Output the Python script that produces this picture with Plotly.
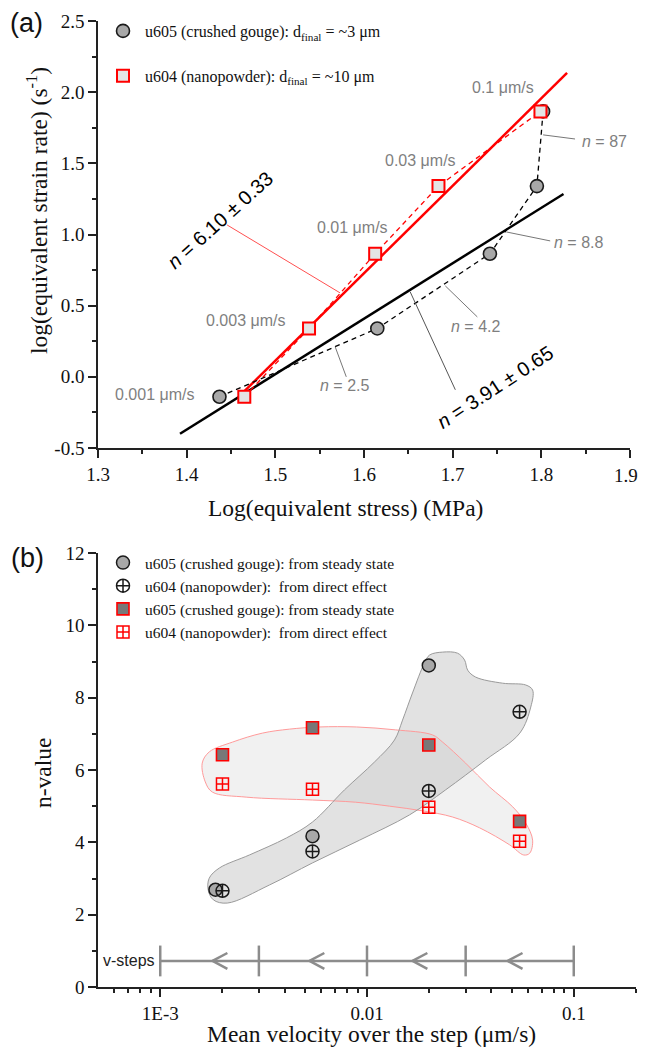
import plotly.graph_objects as go
import numpy as np

# the page body adds an 8px margin, so the figure is drawn 16px smaller
W, H = 630, 1039
OFF = 8
SERIF = "Liberation Serif"
SANS = "Liberation Sans"

# ---- panel (a): log strain rate vs log stress
u605_stress = [1.437, 1.615, 1.742, 1.795, 1.802]
u604_stress = [1.465, 1.538, 1.6126, 1.684, 1.799]
strain_rate = [-0.14, 0.34, 0.865, 1.34, 1.865]
velocities = ["0.001", "0.003", "0.01", "0.03", "0.1"]
step_n = ["2.5", "4.2", "8.8", "87"]
stress_ticks = [1.3, 1.4, 1.5, 1.6, 1.7, 1.8, 1.9]
rate_ticks = [-0.5, 0.0, 0.5, 1.0, 1.5, 2.0, 2.5]

# fitted power-law lines (end points)
u605_fit_x = [1.3925, 1.825]
u605_fit_y = [-0.40, 1.285]
u604_fit_x = [1.462, 1.829]
u604_fit_y = [-0.12, 2.135]
u605_fit_n = "3.91 ± 0.65"
u604_fit_n = "6.10 ± 0.33"

# ---- panel (b): n-value vs mean velocity
u605_ss_v = [0.00185, 0.00545, 0.0199]
u605_ss_n = [2.69, 4.17, 8.89]
u604_de_v = [0.0020, 0.00545, 0.0199, 0.0547]
u604_de_n = [2.66, 3.75, 5.42, 7.61]
sq_v = [0.0020, 0.00545, 0.0199, 0.0547]
sq_ss_n = [6.42, 7.17, 6.69, 4.58]
sq_de_n = [5.61, 5.47, 4.97, 4.03]

step_edges = [0.001, 0.003, 0.01, 0.03, 0.1]
arrow_tips = [0.00179, 0.00527, 0.0166, 0.0479]
vstep_level = 0.72

# hand drawn envelopes (log10 velocity, n)
gray_env_logv = [-2.768, -2.743, -2.676, -2.472, -2.264, -2.036, -1.794, -1.620, -1.426,
                 -1.261, -1.208, -1.199, -1.232, -1.344, -1.475, -1.513, -1.528, -1.562,
                 -1.634, -1.697, -1.722, -1.780, -1.828, -1.867, -1.964, -2.109, -2.264,
                 -2.390, -2.569, -2.714, -2.763]
gray_env_n = [2.68, 2.41, 2.32, 2.82, 3.43, 4.06, 4.76, 5.45, 6.28, 7.02, 7.74, 8.21, 8.35,
              8.40, 8.57, 8.76, 9.04, 9.23, 9.26, 9.18, 8.96, 8.13, 7.38, 6.83, 6.22, 5.45,
              4.56, 4.12, 3.65, 3.29, 3.01]
red_env_logv = [-2.797, -2.763, -2.651, -2.506, -2.375, -2.230, -2.051, -1.862, -1.683,
                -1.634, -1.523, -1.407, -1.295, -1.232, -1.199, -1.213, -1.242, -1.310,
                -1.455, -1.586, -1.731, -1.891, -2.056, -2.264, -2.584, -2.748, -2.782]
red_env_n = [6.19, 6.50, 6.77, 7.02, 7.13, 7.19, 7.19, 7.11, 6.97, 6.77, 6.19, 5.53, 4.98,
             4.53, 4.06, 3.70, 3.65, 3.93, 4.40, 4.70, 4.87, 5.00, 5.11, 5.17, 5.25, 5.39,
             5.67]

GRAY_TXT = "#7f7f7f"
RED = "#ff0000"


def fx(px):
    return (px - OFF) / W


def fy(py):
    return 1 - (py - OFF) / H


fig = go.Figure()

# (a) fit lines
fig.add_trace(go.Scatter(x=u605_fit_x, y=u605_fit_y, mode="lines",
                         line=dict(color="black", width=2.5), showlegend=False, hoverinfo="skip"))
fig.add_trace(go.Scatter(x=u604_fit_x, y=u604_fit_y, mode="lines",
                         line=dict(color=RED, width=2.5), showlegend=False, hoverinfo="skip"))
# (a) dashed connections
fig.add_trace(go.Scatter(x=u605_stress, y=strain_rate, mode="lines",
                         line=dict(color="black", width=1.3, dash="5px,4px"),
                         showlegend=False, hoverinfo="skip"))
fig.add_trace(go.Scatter(x=u604_stress, y=strain_rate, mode="lines",
                         line=dict(color=RED, width=1.3, dash="5px,4px"),
                         showlegend=False, hoverinfo="skip"))
# (a) markers
fig.add_trace(go.Scatter(x=u605_stress, y=strain_rate, mode="markers",
                         marker=dict(symbol="circle", size=13, color="#a8a8a8",
                                     line=dict(color="#1a1a1a", width=1.6)),
                         name="u605 (crushed gouge): d<sub>final</sub> = ~3 μm",
                         legend="legend", legendgroup="a1"))
fig.add_trace(go.Scatter(x=u604_stress, y=strain_rate, mode="markers",
                         marker=dict(symbol="square", size=12, color="#e4e4e4",
                                     line=dict(color=RED, width=2)),
                         name="u604 (nanopowder): d<sub>final</sub> = ~10 μm",
                         legend="legend", legendgroup="a2"))

# (b) envelopes: fills first, outlines on top
red_x = [10 ** v for v in red_env_logv + red_env_logv[:1]]
red_y = red_env_n + red_env_n[:1]
gray_x = [10 ** v for v in gray_env_logv + gray_env_logv[:1]]
gray_y = gray_env_n + gray_env_n[:1]
fig.add_trace(go.Scatter(x=red_x, y=red_y, mode="lines", fill="toself", fillcolor="#f1f1f1",
                         line=dict(width=0, shape="spline"),
                         xaxis="x2", yaxis="y2", showlegend=False, hoverinfo="skip"))
fig.add_trace(go.Scatter(x=gray_x, y=gray_y, mode="lines", fill="toself",
                         fillcolor="rgba(188,188,188,0.43)", line=dict(width=0, shape="spline"),
                         xaxis="x2", yaxis="y2", showlegend=False, hoverinfo="skip"))
fig.add_trace(go.Scatter(x=red_x, y=red_y, mode="lines",
                         line=dict(color="#ff9a9a", width=1, shape="spline"),
                         xaxis="x2", yaxis="y2", showlegend=False, hoverinfo="skip"))
fig.add_trace(go.Scatter(x=gray_x, y=gray_y, mode="lines",
                         line=dict(color="#9a9a9a", width=1, shape="spline"),
                         xaxis="x2", yaxis="y2", showlegend=False, hoverinfo="skip"))

# (b) v-steps bar
VS = "#8c8c8c"
fig.add_trace(go.Scatter(x=[step_edges[0], step_edges[-1]], y=[vstep_level] * 2, mode="lines",
                         line=dict(color=VS, width=2.5), xaxis="x2", yaxis="y2",
                         showlegend=False, hoverinfo="skip"))
fig.add_trace(go.Scatter(x=step_edges, y=[vstep_level] * len(step_edges), mode="markers",
                         marker=dict(symbol="line-ns", size=22, line=dict(color=VS, width=2.5)),
                         xaxis="x2", yaxis="y2", showlegend=False, hoverinfo="skip"))
chev_x, chev_y = [], []
for t in arrow_tips:
    chev_x += [t * 1.18, t, t * 1.18, None]
    chev_y += [vstep_level + 0.22, vstep_level, vstep_level - 0.22, None]
fig.add_trace(go.Scatter(x=chev_x, y=chev_y, mode="lines", line=dict(color=VS, width=2.5),
                         xaxis="x2", yaxis="y2", showlegend=False, hoverinfo="skip"))

# (b) markers
fig.add_trace(go.Scatter(x=u605_ss_v, y=u605_ss_n, mode="markers",
                         marker=dict(symbol="circle", size=13, color="#a8a8a8",
                                     line=dict(color="#1a1a1a", width=1.5)),
                         name="u605 (crushed gouge): from steady state",
                         xaxis="x2", yaxis="y2", legend="legend2"))
fig.add_trace(go.Scatter(x=u604_de_v, y=u604_de_n, mode="markers",
                         marker=dict(symbol="circle-cross-open", size=13, color="#1a1a1a",
                                     line=dict(color="#1a1a1a", width=1.5)),
                         name="u604 (nanopowder):  from direct effect",
                         xaxis="x2", yaxis="y2", legend="legend2"))
fig.add_trace(go.Scatter(x=sq_v, y=sq_ss_n, mode="markers",
                         marker=dict(symbol="square", size=12, color="#787878",
                                     line=dict(color=RED, width=1.6)),
                         name="u605 (crushed gouge): from steady state",
                         xaxis="x2", yaxis="y2", legend="legend2"))
fig.add_trace(go.Scatter(x=sq_v, y=sq_de_n, mode="markers",
                         marker=dict(symbol="square-cross-open", size=12, color=RED,
                                     line=dict(color=RED, width=1.5)),
                         name="u604 (nanopowder):  from direct effect",
                         xaxis="x2", yaxis="y2", legend="legend2"))

annotations = []
# velocity labels (right anchored, left of the points)
vel_pos = [(1.41, -0.126), (1.513, 0.393), (1.6296, 1.046), (1.706, 1.517), (1.794, 2.03)]
for v, (x, y) in zip(velocities, vel_pos):
    annotations.append(dict(x=x, y=y, xref="x", yref="y", text=f"{v} μm/s", showarrow=False,
                            xanchor="right", font=dict(family=SANS, size=16, color=GRAY_TXT)))
n_pos = [(1.548, -0.063), (1.696, 0.351), (1.8124, 0.941), (1.844, 1.65)]
for n, (x, y) in zip(step_n, n_pos):
    annotations.append(dict(x=x, y=y, xref="x", yref="y", text=f"<i>n</i> = {n}",
                            showarrow=False, xanchor="left",
                            font=dict(family=SANS, size=16, color=GRAY_TXT)))
annotations.append(dict(x=1.4377, y=1.103, xref="x", yref="y", text=f"<i>n</i> = {u604_fit_n}",
                        showarrow=False, textangle=-42,
                        font=dict(family=SANS, size=20, color="black")))
annotations.append(dict(x=1.748, y=-0.07, xref="x", yref="y", text=f"<i>n</i> = {u605_fit_n}",
                        showarrow=False, textangle=-33,
                        font=dict(family=SANS, size=20, color="black")))
annotations.append(dict(x=np.log10(step_edges[0]), y=vstep_level, xref="x2", yref="y2",
                        text="v-steps", showarrow=False, xanchor="right", xshift=-3,
                        font=dict(family=SANS, size=16, color="#222")))


# axis titles and panel labels
def ann_paper(text, px, py, size, family=SERIF, angle=0, xanchor="center"):
    return dict(x=fx(px), y=fy(py), xref="paper", yref="paper", text=text, showarrow=False,
                textangle=angle, xanchor=xanchor, yanchor="middle",
                font=dict(family=family, size=size, color="#111"))


annotations += [
    ann_paper("Log(equivalent stress) (MPa)", 345, 508, 23.5),
    ann_paper("log(equivalent strain rate) (s<sup>-1</sup>)", 37, 211, 23.5, angle=-90),
    ann_paper("Mean velocity over the step (μm/s)", 372, 1034, 23.5),
    ann_paper("n-value", 43, 773, 23.5, angle=-90),
    ann_paper("(a)", 26, 23, 27, family=SANS),
    ann_paper("(b)", 27, 558, 27, family=SANS),
    # last stress tick label sits on the right page edge: keep it fully inside
    ann_paper(f"{stress_ticks[-1]:.1f}", 640, 475, 19, xanchor="right"),
]

# leader lines in panel (a)
leaders = [((1.802, 1.70), (1.838, 1.671), "#777"),
           ((1.7605, 1.018), (1.810, 0.955), "#777"),
           ((1.6917, 0.639), (1.7278, 0.421), "#777"),
           ((1.5675, 0.211), (1.580, 0.0), "#777"),
           ((1.6521, 0.597), (1.703, -0.091), "#555"),
           ((1.4456, 1.067), (1.573, 0.590), "#ff5050")]
shapes = [dict(type="line", xref="x", yref="y", x0=a[0], y0=a[1], x1=b[0], y1=b[1],
               line=dict(color=c, width=1)) for a, b, c in leaders]

axis_common = dict(showline=True, linecolor="#222", linewidth=1.5, ticks="outside",
                   ticklen=8, tickwidth=1.5, tickcolor="#222", showgrid=False, zeroline=False,
                   tickfont=dict(family=SERIF, size=19, color="#111"))
minor_common = dict(ticks="outside", ticklen=4, tickwidth=1.5, tickcolor="#222", showgrid=False)

minor_log = [6e-4, 7e-4, 8e-4, 9e-4] + [k * 1e-3 for k in range(2, 10)] + \
            [k * 1e-2 for k in range(2, 10)] + [0.2]

fig.update_layout(
    width=W, height=H, margin=dict(l=0, r=0, t=0, b=0),
    paper_bgcolor="white", plot_bgcolor="white", template=None,
    xaxis=dict(domain=[fx(98), fx(630)], anchor="y", range=[1.3, 1.9],
               tickvals=stress_ticks,
               ticktext=[f"{v:.1f}" for v in stress_ticks[:-1]] + [""],
               minor=dict(dtick=0.05, tick0=1.3, **minor_common), **axis_common),
    yaxis=dict(domain=[fy(448), fy(21)], anchor="x", range=[-0.5, 2.5],
               tickvals=rate_ticks, ticktext=[f"{v:.1f}" for v in rate_ticks],
               minor=dict(dtick=0.25, tick0=0, **minor_common), **axis_common),
    xaxis2=dict(domain=[fx(98), fx(636)], anchor="y2", type="log",
                range=[np.log10(5e-4), np.log10(0.2)], tickvals=[0.001, 0.01, 0.1],
                ticktext=["1E-3", "0.01", "0.1"],
                minor=dict(tickvals=minor_log, **minor_common), **axis_common),
    yaxis2=dict(domain=[fy(987), fy(553)], anchor="x2", range=[0, 12], dtick=2,
                minor=dict(dtick=1, **minor_common), **axis_common),
    legend=dict(x=fx(101), y=fy(14), xanchor="left", yanchor="top", bgcolor="rgba(0,0,0,0)",
                font=dict(family=SERIF, size=16, color="#111"), traceorder="grouped",
                tracegroupgap=21, itemwidth=34),
    legend2=dict(x=fx(101), y=fy(546), xanchor="left", yanchor="top",
                 bgcolor="rgba(0,0,0,0)", font=dict(family=SERIF, size=15.5, color="#111"),
                 tracegroupgap=0, itemwidth=34),
    annotations=annotations, shapes=shapes, showlegend=True,
)

fig.write_html("out.html")
